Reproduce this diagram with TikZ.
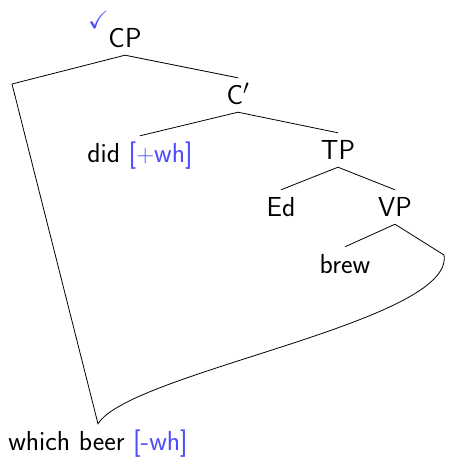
\documentclass[tikz,border=0pt]{standalone}
\usepackage{fontspec}
\usepackage{amssymb}
\begin{document}
\begin{tikzpicture}[x=1pt,y=-1pt,
  every node/.style={font=\fontsize{27.5}{32}\sffamily},
  lab/.style={anchor=base,inner sep=3pt,text height=23pt,text depth=5pt},
  feat/.style={text=blue!70},
  edge/.style={draw=black,line width=0.8pt,line join=miter}]
\useasboundingbox (0,0) rectangle (448,458);
% tree labels (positioned by baseline)
\node[lab] (cp) at (125,47) {CP};
\node[feat,inner sep=0pt,anchor=south west,font=\fontsize{25}{28}\selectfont] (chk) at (88,29) {$\checkmark$};
\node[lab] (cbar) at (238,104) {C$'$};
\node[lab] (did) at (140,162) {did \textcolor{blue!70}{[$+$wh]}};
\node[lab] (tp) at (338,159) {TP};
\node[lab] (ed) at (281,216) {Ed};
\node[lab] (vp) at (395,216) {VP};
\node[lab] (brew) at (345,273) {brew};
\node[lab] (wb) at (98,450) {which beer \textcolor{blue!70}{[-wh]}};
% bends of the movement path
\coordinate (bendL) at (12,84);
\coordinate (bendR) at (444,255);
% branches
\draw[edge] (cp.south) -- (cbar.north);
\draw[edge] (cbar.south) -- (did.north);
\draw[edge] (cbar.south) -- (tp.north);
\draw[edge] (tp.south) -- (ed.north);
\draw[edge] (tp.south) -- (vp.south |- ed.north);
\draw[edge] (vp.south) -- (brew.north);
% path from VP round to the moved phrase and up to CP
\draw[edge] (vp.south) -- (bendR)
  .. controls (455,322) and (130,372) .. (wb.north)
  -- (bendL) -- (cp.south);
\end{tikzpicture}
\end{document}
